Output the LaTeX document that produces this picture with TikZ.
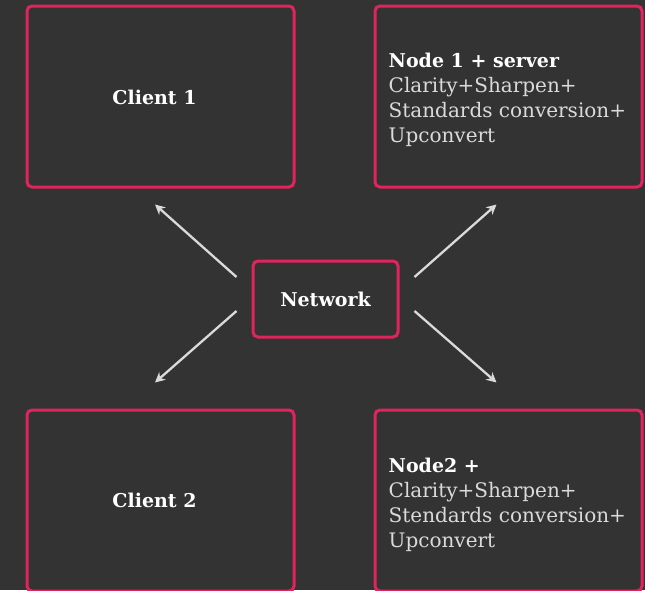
\documentclass[tikz,border=0pt]{standalone}
\usepackage{fontspec}
\setmainfont{DejaVu Serif}
\usetikzlibrary{calc,arrows.meta}
\definecolor{bg}{HTML}{333333}
\definecolor{rim}{HTML}{E0245E}
\definecolor{soft}{HTML}{DADADA}

\begin{document}
\begin{tikzpicture}[x=1pt,y=-1pt,
	box/.style={draw=rim, line width=3pt, rounded corners=5pt, inner sep=0pt,
		minimum width=267pt, minimum height=181pt, text=white,
		font=\fontsize{19}{25}\selectfont\bfseries},
	lbl/.style={inner sep=0pt, text=white, font=\fontsize{19}{25}\selectfont\bfseries},
	info/.style={inner sep=0pt, anchor=west, text=soft, align=left,
		font=\fontsize{20}{25}\selectfont},
	arr/.style={draw=soft, line width=2.3pt, -{Stealth[length=10pt,width=10pt]}}]

		\fill[bg] (0,0) rectangle (645,590);
		\useasboundingbox (0,0) rectangle (645,590);

		\node (client1) [box] at (160.5,96.5) {};
		\node (client1txt) [lbl] at ($(client1)+(-6,0.5)$) {Client 1};

		\node (node1) [box] at (508.5,96.5) {};
		\node (node1txt) [info] at ($(node1.west)+(15,3.5)$)
			{{\fontsize{19}{25}\selectfont\bfseries\color{white}Node 1 + server}\\Clarity+Sharpen+\\Standards conversion+\\Upconvert};

		\node (net) [box, minimum width=145pt, minimum height=76pt] at (325.5,299) {Network};

		\node (client2) [box] at (160.5,500.5) {};
		\node (client2txt) [lbl] at ($(client2)+(-6,0)$) {Client 2};

		\node (node2) [box] at (508.5,500.5) {};
		\node (node2txt) [info] at ($(node2.west)+(15,4)$)
			{{\fontsize{19}{25}\selectfont\bfseries\color{white}Node2 +}\\Clarity+Sharpen+\\Stendards conversion+\\Upconvert};

		\coordinate (nw) at ($(net.west)+(-15,-22)$);
		\coordinate (sw) at ($(net.west)+(-15,12)$);
		\coordinate (ne) at ($(net.east)+(15,-22)$);
		\coordinate (se) at ($(net.east)+(15,12)$);

		\coordinate (c1) at ($(client1.south)+(-5.5,16)$);
		\coordinate (n1) at ($(node1.south)+(-12,16)$);
		\coordinate (c2) at ($(client2.north)+(-5.5,-26)$);
		\coordinate (n2) at ($(node2.north)+(-12,-26)$);

		\draw[arr] (nw) -- (c1);
		\draw[arr] (ne) -- (n1);
		\draw[arr] (sw) -- (c2);
		\draw[arr] (se) -- (n2);
	\end{tikzpicture}
\end{document}
